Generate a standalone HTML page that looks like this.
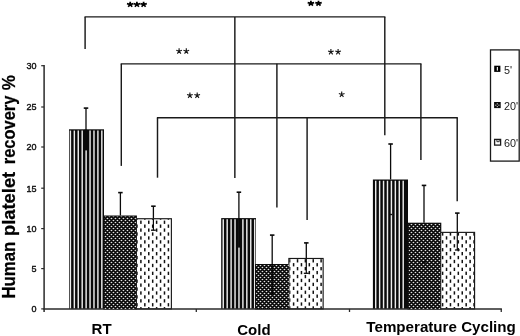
<!DOCTYPE html>
<html><head><meta charset="utf-8"><title>chart</title>
<style>
html,body{margin:0;padding:0;background:#fff;}
body{width:520px;height:336px;overflow:hidden;}
svg{display:block;font-family:"Liberation Sans",sans-serif;}
</style></head><body>
<svg width="520" height="336" viewBox="0 0 520 336">
<defs>
<filter id="soft" x="0" y="0" width="520" height="336" filterUnits="userSpaceOnUse"><feOffset dx="0" dy="0"/></filter>
<filter id="soft2" x="0" y="0" width="520" height="336" filterUnits="userSpaceOnUse"><feOffset dx="0" dy="0"/></filter>
<pattern id="p20" x="104.9" y="219.9" width="3.93" height="3.93" patternUnits="userSpaceOnUse">
<rect x="0" y="0" width="3.93" height="3.93" fill="#0a0a0a"/>
<circle cx="0.65" cy="0.65" r="0.6" fill="#fff"/><circle cx="2.615" cy="2.615" r="0.6" fill="#fff"/>
</pattern>
</defs>
<rect width="520" height="336" fill="#fff"/>
<g filter="url(#soft)">
<rect width="520" height="336" fill="#fff"/>

<line x1="84.50" y1="16.90" x2="385.40" y2="16.90" stroke="#1a1a1a" stroke-width="1.3"/>
<line x1="85.10" y1="16.90" x2="85.10" y2="48.90" stroke="#1a1a1a" stroke-width="1.45"/>
<line x1="234.85" y1="16.90" x2="234.85" y2="177.90" stroke="#1a1a1a" stroke-width="1.45"/>
<line x1="384.80" y1="16.90" x2="384.80" y2="135.20" stroke="#1a1a1a" stroke-width="1.45"/>
<line x1="120.70" y1="63.85" x2="421.40" y2="63.85" stroke="#1a1a1a" stroke-width="1.3"/>
<line x1="121.30" y1="63.85" x2="121.30" y2="165.90" stroke="#1a1a1a" stroke-width="1.45"/>
<line x1="276.90" y1="63.85" x2="276.90" y2="207.50" stroke="#1a1a1a" stroke-width="1.45"/>
<line x1="420.90" y1="63.85" x2="420.90" y2="159.90" stroke="#1a1a1a" stroke-width="1.45"/>
<line x1="156.90" y1="117.75" x2="457.80" y2="117.75" stroke="#1a1a1a" stroke-width="1.3"/>
<line x1="157.50" y1="117.75" x2="157.50" y2="177.70" stroke="#1a1a1a" stroke-width="1.45"/>
<line x1="307.10" y1="117.75" x2="307.10" y2="220.00" stroke="#1a1a1a" stroke-width="1.45"/>
<line x1="457.20" y1="117.75" x2="457.20" y2="201.30" stroke="#1a1a1a" stroke-width="1.45"/>
<rect x="69.0" y="129.3" width="35.00" height="179.60" fill="#0a0a0a"/>
<line x1="70.40" y1="130.55" x2="70.40" y2="308.90" stroke="#ececec" stroke-width="1.45"/>
<line x1="74.33" y1="130.55" x2="74.33" y2="308.90" stroke="#ececec" stroke-width="1.45"/>
<line x1="78.26" y1="130.55" x2="78.26" y2="308.90" stroke="#ececec" stroke-width="1.45"/>
<line x1="82.19" y1="130.55" x2="82.19" y2="308.90" stroke="#ececec" stroke-width="1.45"/>
<line x1="86.12" y1="130.55" x2="86.12" y2="308.90" stroke="#ececec" stroke-width="1.45"/>
<line x1="90.05" y1="130.55" x2="90.05" y2="308.90" stroke="#ececec" stroke-width="1.45"/>
<line x1="93.98" y1="130.55" x2="93.98" y2="308.90" stroke="#ececec" stroke-width="1.45"/>
<line x1="97.91" y1="130.55" x2="97.91" y2="308.90" stroke="#ececec" stroke-width="1.45"/>
<line x1="101.84" y1="130.55" x2="101.84" y2="308.90" stroke="#ececec" stroke-width="1.45"/>
<line x1="86.00" y1="108.00" x2="86.00" y2="129.30" stroke="#0a0a0a" stroke-width="1.3"/>
<line x1="83.75" y1="108.10" x2="88.25" y2="108.10" stroke="#0a0a0a" stroke-width="1.6"/>
<line x1="85.90" y1="129.30" x2="85.90" y2="150.40" stroke="#0a0a0a" stroke-width="2.3"/>
<rect x="103.95" y="216.15" width="32.30" height="92.75" fill="#060606" stroke="#0c0c0c" stroke-width="1.3"/>
<line x1="120.40" y1="192.50" x2="120.40" y2="215.50" stroke="#0a0a0a" stroke-width="1.3"/>
<line x1="118.15" y1="192.60" x2="122.65" y2="192.60" stroke="#0a0a0a" stroke-width="1.6"/>
<rect x="135.8" y="218.15" width="36.15" height="90.75" fill="#fff"/>
<clipPath id="c1"><rect x="136.80" y="219.15" width="34.15" height="89.75"/></clipPath>
<g clip-path="url(#c1)" fill="#111">
<rect x="136.22" y="208.81" width="1.5" height="3.3"/>
<rect x="136.22" y="216.67" width="1.5" height="3.3"/>
<rect x="136.22" y="224.53" width="1.5" height="3.3"/>
<rect x="136.22" y="232.39" width="1.5" height="3.3"/>
<rect x="136.22" y="240.25" width="1.5" height="3.3"/>
<rect x="136.22" y="248.11" width="1.5" height="3.3"/>
<rect x="136.22" y="255.97" width="1.5" height="3.3"/>
<rect x="136.22" y="263.83" width="1.5" height="3.3"/>
<rect x="136.22" y="271.69" width="1.5" height="3.3"/>
<rect x="136.22" y="279.55" width="1.5" height="3.3"/>
<rect x="136.22" y="287.41" width="1.5" height="3.3"/>
<rect x="136.22" y="295.27" width="1.5" height="3.3"/>
<rect x="136.22" y="303.13" width="1.5" height="3.3"/>
<rect x="140.15" y="204.88" width="1.5" height="3.3"/>
<rect x="140.15" y="212.74" width="1.5" height="3.3"/>
<rect x="140.15" y="220.60" width="1.5" height="3.3"/>
<rect x="140.15" y="228.46" width="1.5" height="3.3"/>
<rect x="140.15" y="236.32" width="1.5" height="3.3"/>
<rect x="140.15" y="244.18" width="1.5" height="3.3"/>
<rect x="140.15" y="252.04" width="1.5" height="3.3"/>
<rect x="140.15" y="259.90" width="1.5" height="3.3"/>
<rect x="140.15" y="267.76" width="1.5" height="3.3"/>
<rect x="140.15" y="275.62" width="1.5" height="3.3"/>
<rect x="140.15" y="283.48" width="1.5" height="3.3"/>
<rect x="140.15" y="291.34" width="1.5" height="3.3"/>
<rect x="140.15" y="299.20" width="1.5" height="3.3"/>
<rect x="140.15" y="307.06" width="1.5" height="3.3"/>
<rect x="144.08" y="208.81" width="1.5" height="3.3"/>
<rect x="144.08" y="216.67" width="1.5" height="3.3"/>
<rect x="144.08" y="224.53" width="1.5" height="3.3"/>
<rect x="144.08" y="232.39" width="1.5" height="3.3"/>
<rect x="144.08" y="240.25" width="1.5" height="3.3"/>
<rect x="144.08" y="248.11" width="1.5" height="3.3"/>
<rect x="144.08" y="255.97" width="1.5" height="3.3"/>
<rect x="144.08" y="263.83" width="1.5" height="3.3"/>
<rect x="144.08" y="271.69" width="1.5" height="3.3"/>
<rect x="144.08" y="279.55" width="1.5" height="3.3"/>
<rect x="144.08" y="287.41" width="1.5" height="3.3"/>
<rect x="144.08" y="295.27" width="1.5" height="3.3"/>
<rect x="144.08" y="303.13" width="1.5" height="3.3"/>
<rect x="148.01" y="204.88" width="1.5" height="3.3"/>
<rect x="148.01" y="212.74" width="1.5" height="3.3"/>
<rect x="148.01" y="220.60" width="1.5" height="3.3"/>
<rect x="148.01" y="228.46" width="1.5" height="3.3"/>
<rect x="148.01" y="236.32" width="1.5" height="3.3"/>
<rect x="148.01" y="244.18" width="1.5" height="3.3"/>
<rect x="148.01" y="252.04" width="1.5" height="3.3"/>
<rect x="148.01" y="259.90" width="1.5" height="3.3"/>
<rect x="148.01" y="267.76" width="1.5" height="3.3"/>
<rect x="148.01" y="275.62" width="1.5" height="3.3"/>
<rect x="148.01" y="283.48" width="1.5" height="3.3"/>
<rect x="148.01" y="291.34" width="1.5" height="3.3"/>
<rect x="148.01" y="299.20" width="1.5" height="3.3"/>
<rect x="148.01" y="307.06" width="1.5" height="3.3"/>
<rect x="151.94" y="208.81" width="1.5" height="3.3"/>
<rect x="151.94" y="216.67" width="1.5" height="3.3"/>
<rect x="151.94" y="224.53" width="1.5" height="3.3"/>
<rect x="151.94" y="232.39" width="1.5" height="3.3"/>
<rect x="151.94" y="240.25" width="1.5" height="3.3"/>
<rect x="151.94" y="248.11" width="1.5" height="3.3"/>
<rect x="151.94" y="255.97" width="1.5" height="3.3"/>
<rect x="151.94" y="263.83" width="1.5" height="3.3"/>
<rect x="151.94" y="271.69" width="1.5" height="3.3"/>
<rect x="151.94" y="279.55" width="1.5" height="3.3"/>
<rect x="151.94" y="287.41" width="1.5" height="3.3"/>
<rect x="151.94" y="295.27" width="1.5" height="3.3"/>
<rect x="151.94" y="303.13" width="1.5" height="3.3"/>
<rect x="155.87" y="204.88" width="1.5" height="3.3"/>
<rect x="155.87" y="212.74" width="1.5" height="3.3"/>
<rect x="155.87" y="220.60" width="1.5" height="3.3"/>
<rect x="155.87" y="228.46" width="1.5" height="3.3"/>
<rect x="155.87" y="236.32" width="1.5" height="3.3"/>
<rect x="155.87" y="244.18" width="1.5" height="3.3"/>
<rect x="155.87" y="252.04" width="1.5" height="3.3"/>
<rect x="155.87" y="259.90" width="1.5" height="3.3"/>
<rect x="155.87" y="267.76" width="1.5" height="3.3"/>
<rect x="155.87" y="275.62" width="1.5" height="3.3"/>
<rect x="155.87" y="283.48" width="1.5" height="3.3"/>
<rect x="155.87" y="291.34" width="1.5" height="3.3"/>
<rect x="155.87" y="299.20" width="1.5" height="3.3"/>
<rect x="155.87" y="307.06" width="1.5" height="3.3"/>
<rect x="159.80" y="208.81" width="1.5" height="3.3"/>
<rect x="159.80" y="216.67" width="1.5" height="3.3"/>
<rect x="159.80" y="224.53" width="1.5" height="3.3"/>
<rect x="159.80" y="232.39" width="1.5" height="3.3"/>
<rect x="159.80" y="240.25" width="1.5" height="3.3"/>
<rect x="159.80" y="248.11" width="1.5" height="3.3"/>
<rect x="159.80" y="255.97" width="1.5" height="3.3"/>
<rect x="159.80" y="263.83" width="1.5" height="3.3"/>
<rect x="159.80" y="271.69" width="1.5" height="3.3"/>
<rect x="159.80" y="279.55" width="1.5" height="3.3"/>
<rect x="159.80" y="287.41" width="1.5" height="3.3"/>
<rect x="159.80" y="295.27" width="1.5" height="3.3"/>
<rect x="159.80" y="303.13" width="1.5" height="3.3"/>
<rect x="163.73" y="204.88" width="1.5" height="3.3"/>
<rect x="163.73" y="212.74" width="1.5" height="3.3"/>
<rect x="163.73" y="220.60" width="1.5" height="3.3"/>
<rect x="163.73" y="228.46" width="1.5" height="3.3"/>
<rect x="163.73" y="236.32" width="1.5" height="3.3"/>
<rect x="163.73" y="244.18" width="1.5" height="3.3"/>
<rect x="163.73" y="252.04" width="1.5" height="3.3"/>
<rect x="163.73" y="259.90" width="1.5" height="3.3"/>
<rect x="163.73" y="267.76" width="1.5" height="3.3"/>
<rect x="163.73" y="275.62" width="1.5" height="3.3"/>
<rect x="163.73" y="283.48" width="1.5" height="3.3"/>
<rect x="163.73" y="291.34" width="1.5" height="3.3"/>
<rect x="163.73" y="299.20" width="1.5" height="3.3"/>
<rect x="163.73" y="307.06" width="1.5" height="3.3"/>
<rect x="167.66" y="208.81" width="1.5" height="3.3"/>
<rect x="167.66" y="216.67" width="1.5" height="3.3"/>
<rect x="167.66" y="224.53" width="1.5" height="3.3"/>
<rect x="167.66" y="232.39" width="1.5" height="3.3"/>
<rect x="167.66" y="240.25" width="1.5" height="3.3"/>
<rect x="167.66" y="248.11" width="1.5" height="3.3"/>
<rect x="167.66" y="255.97" width="1.5" height="3.3"/>
<rect x="167.66" y="263.83" width="1.5" height="3.3"/>
<rect x="167.66" y="271.69" width="1.5" height="3.3"/>
<rect x="167.66" y="279.55" width="1.5" height="3.3"/>
<rect x="167.66" y="287.41" width="1.5" height="3.3"/>
<rect x="167.66" y="295.27" width="1.5" height="3.3"/>
<rect x="167.66" y="303.13" width="1.5" height="3.3"/>
</g>
<rect x="136.38" y="218.72" width="35.00" height="90.17" fill="none" stroke="#181818" stroke-width="1.15"/>
<line x1="153.40" y1="206.10" x2="153.40" y2="218.00" stroke="#0a0a0a" stroke-width="1.3"/>
<line x1="151.15" y1="206.20" x2="155.65" y2="206.20" stroke="#0a0a0a" stroke-width="1.6"/>
<line x1="153.40" y1="218.50" x2="153.40" y2="230.20" stroke="#0a0a0a" stroke-width="1.2"/>
<line x1="151.00" y1="230.20" x2="155.80" y2="230.20" stroke="#0a0a0a" stroke-width="1.3"/>
<rect x="221.2" y="218.1" width="34.80" height="90.80" fill="#0a0a0a"/>
<line x1="223.25" y1="219.35" x2="223.25" y2="308.90" stroke="#ececec" stroke-width="1.45"/>
<line x1="227.18" y1="219.35" x2="227.18" y2="308.90" stroke="#ececec" stroke-width="1.45"/>
<line x1="231.11" y1="219.35" x2="231.11" y2="308.90" stroke="#ececec" stroke-width="1.45"/>
<line x1="235.04" y1="219.35" x2="235.04" y2="308.90" stroke="#ececec" stroke-width="1.45"/>
<line x1="238.97" y1="219.35" x2="238.97" y2="308.90" stroke="#ececec" stroke-width="1.45"/>
<line x1="242.90" y1="219.35" x2="242.90" y2="308.90" stroke="#ececec" stroke-width="1.45"/>
<line x1="246.83" y1="219.35" x2="246.83" y2="308.90" stroke="#ececec" stroke-width="1.45"/>
<line x1="250.76" y1="219.35" x2="250.76" y2="308.90" stroke="#ececec" stroke-width="1.45"/>
<line x1="254.69" y1="219.35" x2="254.69" y2="308.90" stroke="#ececec" stroke-width="1.45"/>
<line x1="238.90" y1="192.10" x2="238.90" y2="218.10" stroke="#0a0a0a" stroke-width="1.3"/>
<line x1="236.65" y1="192.20" x2="241.15" y2="192.20" stroke="#0a0a0a" stroke-width="1.6"/>
<line x1="239.20" y1="218.10" x2="239.20" y2="247.60" stroke="#0a0a0a" stroke-width="2.3"/>
<rect x="255.75" y="264.65" width="33.40" height="44.25" fill="#060606" stroke="#0c0c0c" stroke-width="1.3"/>
<line x1="272.20" y1="235.00" x2="272.20" y2="264.00" stroke="#0a0a0a" stroke-width="1.3"/>
<line x1="269.95" y1="235.10" x2="274.45" y2="235.10" stroke="#0a0a0a" stroke-width="1.6"/>
<rect x="288.3" y="257.9" width="35.40" height="51.00" fill="#fff"/>
<clipPath id="c2"><rect x="289.30" y="258.90" width="33.40" height="50.00"/></clipPath>
<g clip-path="url(#c2)" fill="#111">
<rect x="288.92" y="243.45" width="1.5" height="3.3"/>
<rect x="288.92" y="251.31" width="1.5" height="3.3"/>
<rect x="288.92" y="259.17" width="1.5" height="3.3"/>
<rect x="288.92" y="267.03" width="1.5" height="3.3"/>
<rect x="288.92" y="274.89" width="1.5" height="3.3"/>
<rect x="288.92" y="282.75" width="1.5" height="3.3"/>
<rect x="288.92" y="290.61" width="1.5" height="3.3"/>
<rect x="288.92" y="298.47" width="1.5" height="3.3"/>
<rect x="288.92" y="306.33" width="1.5" height="3.3"/>
<rect x="292.85" y="247.38" width="1.5" height="3.3"/>
<rect x="292.85" y="255.24" width="1.5" height="3.3"/>
<rect x="292.85" y="263.10" width="1.5" height="3.3"/>
<rect x="292.85" y="270.96" width="1.5" height="3.3"/>
<rect x="292.85" y="278.82" width="1.5" height="3.3"/>
<rect x="292.85" y="286.68" width="1.5" height="3.3"/>
<rect x="292.85" y="294.54" width="1.5" height="3.3"/>
<rect x="292.85" y="302.40" width="1.5" height="3.3"/>
<rect x="296.78" y="243.45" width="1.5" height="3.3"/>
<rect x="296.78" y="251.31" width="1.5" height="3.3"/>
<rect x="296.78" y="259.17" width="1.5" height="3.3"/>
<rect x="296.78" y="267.03" width="1.5" height="3.3"/>
<rect x="296.78" y="274.89" width="1.5" height="3.3"/>
<rect x="296.78" y="282.75" width="1.5" height="3.3"/>
<rect x="296.78" y="290.61" width="1.5" height="3.3"/>
<rect x="296.78" y="298.47" width="1.5" height="3.3"/>
<rect x="296.78" y="306.33" width="1.5" height="3.3"/>
<rect x="300.71" y="247.38" width="1.5" height="3.3"/>
<rect x="300.71" y="255.24" width="1.5" height="3.3"/>
<rect x="300.71" y="263.10" width="1.5" height="3.3"/>
<rect x="300.71" y="270.96" width="1.5" height="3.3"/>
<rect x="300.71" y="278.82" width="1.5" height="3.3"/>
<rect x="300.71" y="286.68" width="1.5" height="3.3"/>
<rect x="300.71" y="294.54" width="1.5" height="3.3"/>
<rect x="300.71" y="302.40" width="1.5" height="3.3"/>
<rect x="304.64" y="243.45" width="1.5" height="3.3"/>
<rect x="304.64" y="251.31" width="1.5" height="3.3"/>
<rect x="304.64" y="259.17" width="1.5" height="3.3"/>
<rect x="304.64" y="267.03" width="1.5" height="3.3"/>
<rect x="304.64" y="274.89" width="1.5" height="3.3"/>
<rect x="304.64" y="282.75" width="1.5" height="3.3"/>
<rect x="304.64" y="290.61" width="1.5" height="3.3"/>
<rect x="304.64" y="298.47" width="1.5" height="3.3"/>
<rect x="304.64" y="306.33" width="1.5" height="3.3"/>
<rect x="308.57" y="247.38" width="1.5" height="3.3"/>
<rect x="308.57" y="255.24" width="1.5" height="3.3"/>
<rect x="308.57" y="263.10" width="1.5" height="3.3"/>
<rect x="308.57" y="270.96" width="1.5" height="3.3"/>
<rect x="308.57" y="278.82" width="1.5" height="3.3"/>
<rect x="308.57" y="286.68" width="1.5" height="3.3"/>
<rect x="308.57" y="294.54" width="1.5" height="3.3"/>
<rect x="308.57" y="302.40" width="1.5" height="3.3"/>
<rect x="312.50" y="243.45" width="1.5" height="3.3"/>
<rect x="312.50" y="251.31" width="1.5" height="3.3"/>
<rect x="312.50" y="259.17" width="1.5" height="3.3"/>
<rect x="312.50" y="267.03" width="1.5" height="3.3"/>
<rect x="312.50" y="274.89" width="1.5" height="3.3"/>
<rect x="312.50" y="282.75" width="1.5" height="3.3"/>
<rect x="312.50" y="290.61" width="1.5" height="3.3"/>
<rect x="312.50" y="298.47" width="1.5" height="3.3"/>
<rect x="312.50" y="306.33" width="1.5" height="3.3"/>
<rect x="316.43" y="247.38" width="1.5" height="3.3"/>
<rect x="316.43" y="255.24" width="1.5" height="3.3"/>
<rect x="316.43" y="263.10" width="1.5" height="3.3"/>
<rect x="316.43" y="270.96" width="1.5" height="3.3"/>
<rect x="316.43" y="278.82" width="1.5" height="3.3"/>
<rect x="316.43" y="286.68" width="1.5" height="3.3"/>
<rect x="316.43" y="294.54" width="1.5" height="3.3"/>
<rect x="316.43" y="302.40" width="1.5" height="3.3"/>
<rect x="320.36" y="243.45" width="1.5" height="3.3"/>
<rect x="320.36" y="251.31" width="1.5" height="3.3"/>
<rect x="320.36" y="259.17" width="1.5" height="3.3"/>
<rect x="320.36" y="267.03" width="1.5" height="3.3"/>
<rect x="320.36" y="274.89" width="1.5" height="3.3"/>
<rect x="320.36" y="282.75" width="1.5" height="3.3"/>
<rect x="320.36" y="290.61" width="1.5" height="3.3"/>
<rect x="320.36" y="298.47" width="1.5" height="3.3"/>
<rect x="320.36" y="306.33" width="1.5" height="3.3"/>
</g>
<rect x="288.88" y="258.47" width="34.25" height="50.42" fill="none" stroke="#181818" stroke-width="1.15"/>
<line x1="306.30" y1="242.80" x2="306.30" y2="258.00" stroke="#0a0a0a" stroke-width="1.3"/>
<line x1="304.05" y1="242.90" x2="308.55" y2="242.90" stroke="#0a0a0a" stroke-width="1.6"/>
<line x1="306.30" y1="258.50" x2="306.30" y2="273.30" stroke="#0a0a0a" stroke-width="1.2"/>
<line x1="303.80" y1="273.30" x2="308.80" y2="273.30" stroke="#0a0a0a" stroke-width="1.3"/>
<rect x="372.9" y="179.5" width="35.10" height="129.40" fill="#0a0a0a"/>
<line x1="375.70" y1="180.75" x2="375.70" y2="308.90" stroke="#ececec" stroke-width="1.45"/>
<line x1="379.63" y1="180.75" x2="379.63" y2="308.90" stroke="#ececec" stroke-width="1.45"/>
<line x1="383.56" y1="180.75" x2="383.56" y2="308.90" stroke="#ececec" stroke-width="1.45"/>
<line x1="387.49" y1="180.75" x2="387.49" y2="308.90" stroke="#ececec" stroke-width="1.45"/>
<line x1="391.42" y1="180.75" x2="391.42" y2="308.90" stroke="#ececec" stroke-width="1.45"/>
<line x1="395.35" y1="180.75" x2="395.35" y2="308.90" stroke="#ececec" stroke-width="1.45"/>
<line x1="399.28" y1="180.75" x2="399.28" y2="308.90" stroke="#ececec" stroke-width="1.45"/>
<line x1="403.21" y1="180.75" x2="403.21" y2="308.90" stroke="#ececec" stroke-width="1.45"/>
<line x1="390.60" y1="143.90" x2="390.60" y2="179.50" stroke="#0a0a0a" stroke-width="1.3"/>
<line x1="388.35" y1="144.00" x2="392.85" y2="144.00" stroke="#0a0a0a" stroke-width="1.6"/>
<line x1="389.90" y1="214.50" x2="392.10" y2="214.50" stroke="#111" stroke-width="1.4"/>
<rect x="408.15" y="223.35" width="32.50" height="85.55" fill="#060606" stroke="#0c0c0c" stroke-width="1.3"/>
<line x1="424.00" y1="185.30" x2="424.00" y2="222.70" stroke="#0a0a0a" stroke-width="1.3"/>
<line x1="421.75" y1="185.40" x2="426.25" y2="185.40" stroke="#0a0a0a" stroke-width="1.6"/>
<rect x="440.1" y="231.8" width="35.05" height="77.10" fill="#fff"/>
<clipPath id="c3"><rect x="441.10" y="232.80" width="33.05" height="76.10"/></clipPath>
<g clip-path="url(#c3)" fill="#111">
<rect x="437.92" y="220.55" width="1.5" height="3.3"/>
<rect x="437.92" y="228.41" width="1.5" height="3.3"/>
<rect x="437.92" y="236.27" width="1.5" height="3.3"/>
<rect x="437.92" y="244.13" width="1.5" height="3.3"/>
<rect x="437.92" y="251.99" width="1.5" height="3.3"/>
<rect x="437.92" y="259.85" width="1.5" height="3.3"/>
<rect x="437.92" y="267.71" width="1.5" height="3.3"/>
<rect x="437.92" y="275.57" width="1.5" height="3.3"/>
<rect x="437.92" y="283.43" width="1.5" height="3.3"/>
<rect x="437.92" y="291.29" width="1.5" height="3.3"/>
<rect x="437.92" y="299.15" width="1.5" height="3.3"/>
<rect x="437.92" y="307.01" width="1.5" height="3.3"/>
<rect x="441.85" y="216.62" width="1.5" height="3.3"/>
<rect x="441.85" y="224.48" width="1.5" height="3.3"/>
<rect x="441.85" y="232.34" width="1.5" height="3.3"/>
<rect x="441.85" y="240.20" width="1.5" height="3.3"/>
<rect x="441.85" y="248.06" width="1.5" height="3.3"/>
<rect x="441.85" y="255.92" width="1.5" height="3.3"/>
<rect x="441.85" y="263.78" width="1.5" height="3.3"/>
<rect x="441.85" y="271.64" width="1.5" height="3.3"/>
<rect x="441.85" y="279.50" width="1.5" height="3.3"/>
<rect x="441.85" y="287.36" width="1.5" height="3.3"/>
<rect x="441.85" y="295.22" width="1.5" height="3.3"/>
<rect x="441.85" y="303.08" width="1.5" height="3.3"/>
<rect x="445.78" y="220.55" width="1.5" height="3.3"/>
<rect x="445.78" y="228.41" width="1.5" height="3.3"/>
<rect x="445.78" y="236.27" width="1.5" height="3.3"/>
<rect x="445.78" y="244.13" width="1.5" height="3.3"/>
<rect x="445.78" y="251.99" width="1.5" height="3.3"/>
<rect x="445.78" y="259.85" width="1.5" height="3.3"/>
<rect x="445.78" y="267.71" width="1.5" height="3.3"/>
<rect x="445.78" y="275.57" width="1.5" height="3.3"/>
<rect x="445.78" y="283.43" width="1.5" height="3.3"/>
<rect x="445.78" y="291.29" width="1.5" height="3.3"/>
<rect x="445.78" y="299.15" width="1.5" height="3.3"/>
<rect x="445.78" y="307.01" width="1.5" height="3.3"/>
<rect x="449.71" y="216.62" width="1.5" height="3.3"/>
<rect x="449.71" y="224.48" width="1.5" height="3.3"/>
<rect x="449.71" y="232.34" width="1.5" height="3.3"/>
<rect x="449.71" y="240.20" width="1.5" height="3.3"/>
<rect x="449.71" y="248.06" width="1.5" height="3.3"/>
<rect x="449.71" y="255.92" width="1.5" height="3.3"/>
<rect x="449.71" y="263.78" width="1.5" height="3.3"/>
<rect x="449.71" y="271.64" width="1.5" height="3.3"/>
<rect x="449.71" y="279.50" width="1.5" height="3.3"/>
<rect x="449.71" y="287.36" width="1.5" height="3.3"/>
<rect x="449.71" y="295.22" width="1.5" height="3.3"/>
<rect x="449.71" y="303.08" width="1.5" height="3.3"/>
<rect x="453.64" y="220.55" width="1.5" height="3.3"/>
<rect x="453.64" y="228.41" width="1.5" height="3.3"/>
<rect x="453.64" y="236.27" width="1.5" height="3.3"/>
<rect x="453.64" y="244.13" width="1.5" height="3.3"/>
<rect x="453.64" y="251.99" width="1.5" height="3.3"/>
<rect x="453.64" y="259.85" width="1.5" height="3.3"/>
<rect x="453.64" y="267.71" width="1.5" height="3.3"/>
<rect x="453.64" y="275.57" width="1.5" height="3.3"/>
<rect x="453.64" y="283.43" width="1.5" height="3.3"/>
<rect x="453.64" y="291.29" width="1.5" height="3.3"/>
<rect x="453.64" y="299.15" width="1.5" height="3.3"/>
<rect x="453.64" y="307.01" width="1.5" height="3.3"/>
<rect x="457.57" y="216.62" width="1.5" height="3.3"/>
<rect x="457.57" y="224.48" width="1.5" height="3.3"/>
<rect x="457.57" y="232.34" width="1.5" height="3.3"/>
<rect x="457.57" y="240.20" width="1.5" height="3.3"/>
<rect x="457.57" y="248.06" width="1.5" height="3.3"/>
<rect x="457.57" y="255.92" width="1.5" height="3.3"/>
<rect x="457.57" y="263.78" width="1.5" height="3.3"/>
<rect x="457.57" y="271.64" width="1.5" height="3.3"/>
<rect x="457.57" y="279.50" width="1.5" height="3.3"/>
<rect x="457.57" y="287.36" width="1.5" height="3.3"/>
<rect x="457.57" y="295.22" width="1.5" height="3.3"/>
<rect x="457.57" y="303.08" width="1.5" height="3.3"/>
<rect x="461.50" y="220.55" width="1.5" height="3.3"/>
<rect x="461.50" y="228.41" width="1.5" height="3.3"/>
<rect x="461.50" y="236.27" width="1.5" height="3.3"/>
<rect x="461.50" y="244.13" width="1.5" height="3.3"/>
<rect x="461.50" y="251.99" width="1.5" height="3.3"/>
<rect x="461.50" y="259.85" width="1.5" height="3.3"/>
<rect x="461.50" y="267.71" width="1.5" height="3.3"/>
<rect x="461.50" y="275.57" width="1.5" height="3.3"/>
<rect x="461.50" y="283.43" width="1.5" height="3.3"/>
<rect x="461.50" y="291.29" width="1.5" height="3.3"/>
<rect x="461.50" y="299.15" width="1.5" height="3.3"/>
<rect x="461.50" y="307.01" width="1.5" height="3.3"/>
<rect x="465.43" y="216.62" width="1.5" height="3.3"/>
<rect x="465.43" y="224.48" width="1.5" height="3.3"/>
<rect x="465.43" y="232.34" width="1.5" height="3.3"/>
<rect x="465.43" y="240.20" width="1.5" height="3.3"/>
<rect x="465.43" y="248.06" width="1.5" height="3.3"/>
<rect x="465.43" y="255.92" width="1.5" height="3.3"/>
<rect x="465.43" y="263.78" width="1.5" height="3.3"/>
<rect x="465.43" y="271.64" width="1.5" height="3.3"/>
<rect x="465.43" y="279.50" width="1.5" height="3.3"/>
<rect x="465.43" y="287.36" width="1.5" height="3.3"/>
<rect x="465.43" y="295.22" width="1.5" height="3.3"/>
<rect x="465.43" y="303.08" width="1.5" height="3.3"/>
<rect x="469.36" y="220.55" width="1.5" height="3.3"/>
<rect x="469.36" y="228.41" width="1.5" height="3.3"/>
<rect x="469.36" y="236.27" width="1.5" height="3.3"/>
<rect x="469.36" y="244.13" width="1.5" height="3.3"/>
<rect x="469.36" y="251.99" width="1.5" height="3.3"/>
<rect x="469.36" y="259.85" width="1.5" height="3.3"/>
<rect x="469.36" y="267.71" width="1.5" height="3.3"/>
<rect x="469.36" y="275.57" width="1.5" height="3.3"/>
<rect x="469.36" y="283.43" width="1.5" height="3.3"/>
<rect x="469.36" y="291.29" width="1.5" height="3.3"/>
<rect x="469.36" y="299.15" width="1.5" height="3.3"/>
<rect x="469.36" y="307.01" width="1.5" height="3.3"/>
<rect x="473.29" y="216.62" width="1.5" height="3.3"/>
<rect x="473.29" y="224.48" width="1.5" height="3.3"/>
<rect x="473.29" y="232.34" width="1.5" height="3.3"/>
<rect x="473.29" y="240.20" width="1.5" height="3.3"/>
<rect x="473.29" y="248.06" width="1.5" height="3.3"/>
<rect x="473.29" y="255.92" width="1.5" height="3.3"/>
<rect x="473.29" y="263.78" width="1.5" height="3.3"/>
<rect x="473.29" y="271.64" width="1.5" height="3.3"/>
<rect x="473.29" y="279.50" width="1.5" height="3.3"/>
<rect x="473.29" y="287.36" width="1.5" height="3.3"/>
<rect x="473.29" y="295.22" width="1.5" height="3.3"/>
<rect x="473.29" y="303.08" width="1.5" height="3.3"/>
</g>
<rect x="440.68" y="232.38" width="33.90" height="76.52" fill="none" stroke="#181818" stroke-width="1.15"/>
<line x1="457.30" y1="213.00" x2="457.30" y2="232.00" stroke="#0a0a0a" stroke-width="1.3"/>
<line x1="455.05" y1="213.10" x2="459.55" y2="213.10" stroke="#0a0a0a" stroke-width="1.6"/>
<line x1="457.30" y1="232.40" x2="457.30" y2="250.00" stroke="#0a0a0a" stroke-width="1.2"/>
<line x1="454.90" y1="250.00" x2="459.70" y2="250.00" stroke="#0a0a0a" stroke-width="1.3"/>
<line x1="44.10" y1="65.10" x2="44.10" y2="311.90" stroke="#2a2a2a" stroke-width="1.5"/>
<line x1="43.40" y1="308.90" x2="501.90" y2="308.90" stroke="#2a2a2a" stroke-width="1.45"/>
<line x1="41.20" y1="65.70" x2="44.00" y2="65.70" stroke="#2a2a2a" stroke-width="1.2"/>
<text x="36.5" y="69.0" font-size="9" text-anchor="end" fill="#111" stroke="#111" stroke-width="0.4">30</text>
<line x1="41.20" y1="107.00" x2="44.00" y2="107.00" stroke="#2a2a2a" stroke-width="1.2"/>
<text x="36.5" y="110.3" font-size="9" text-anchor="end" fill="#111" stroke="#111" stroke-width="0.4">25</text>
<line x1="41.20" y1="147.00" x2="44.00" y2="147.00" stroke="#2a2a2a" stroke-width="1.2"/>
<text x="36.5" y="150.3" font-size="9" text-anchor="end" fill="#111" stroke="#111" stroke-width="0.4">20</text>
<line x1="41.20" y1="188.20" x2="44.00" y2="188.20" stroke="#2a2a2a" stroke-width="1.2"/>
<text x="36.5" y="191.5" font-size="9" text-anchor="end" fill="#111" stroke="#111" stroke-width="0.4">15</text>
<line x1="41.20" y1="228.60" x2="44.00" y2="228.60" stroke="#2a2a2a" stroke-width="1.2"/>
<text x="36.5" y="231.9" font-size="9" text-anchor="end" fill="#111" stroke="#111" stroke-width="0.4">10</text>
<line x1="41.20" y1="268.60" x2="44.00" y2="268.60" stroke="#2a2a2a" stroke-width="1.2"/>
<text x="36.5" y="271.9" font-size="9" text-anchor="end" fill="#111" stroke="#111" stroke-width="0.4">5</text>
<line x1="41.20" y1="308.90" x2="44.00" y2="308.90" stroke="#2a2a2a" stroke-width="1.2"/>
<text x="36.5" y="312.2" font-size="9" text-anchor="end" fill="#111" stroke="#111" stroke-width="0.4">0</text>
<line x1="196.30" y1="308.90" x2="196.30" y2="312.00" stroke="#2a2a2a" stroke-width="1.3"/>
<line x1="349.50" y1="308.90" x2="349.50" y2="312.00" stroke="#2a2a2a" stroke-width="1.3"/>
<line x1="501.25" y1="308.90" x2="501.25" y2="312.00" stroke="#2a2a2a" stroke-width="1.3"/>
<text x="101.6" y="334.3" font-size="15" font-weight="bold" text-anchor="middle" fill="#000">RT</text>
<text x="253.9" y="335" font-size="15" font-weight="bold" text-anchor="middle" fill="#000">Cold</text>
<text x="441.1" y="332.4" font-size="15.15" font-weight="bold" text-anchor="middle" fill="#000">Temperature Cycling</text>
<text transform="translate(15.4,298.5) rotate(-90)" font-size="17.5" font-weight="bold" fill="#000" stroke="#000" stroke-width="0.25" textLength="56.7" lengthAdjust="spacingAndGlyphs">Human</text>
<text transform="translate(15.4,236.0) rotate(-90)" font-size="17.5" font-weight="bold" fill="#000" stroke="#000" stroke-width="0.25" textLength="64.2" lengthAdjust="spacingAndGlyphs">platelet</text>
<text transform="translate(15.4,164.2) rotate(-90)" font-size="17.5" font-weight="bold" fill="#000" stroke="#000" stroke-width="0.25" textLength="68.6" lengthAdjust="spacingAndGlyphs">recovery</text>
<text transform="translate(15.4,90.2) rotate(-90)" font-size="17.5" font-weight="bold" fill="#000" stroke="#000" stroke-width="0.25" textLength="15.1" lengthAdjust="spacingAndGlyphs">%</text>
<path d="M130.20,4.50L130.20,1.75M130.20,4.50L133.43,3.65M130.20,4.50L132.20,6.72M130.20,4.50L128.20,6.72M130.20,4.50L126.97,3.65" stroke="#000" stroke-width="1.75" fill="none"/>
<path d="M136.90,4.50L136.90,1.75M136.90,4.50L140.13,3.65M136.90,4.50L138.90,6.72M136.90,4.50L134.90,6.72M136.90,4.50L133.67,3.65" stroke="#000" stroke-width="1.75" fill="none"/>
<path d="M143.60,4.50L143.60,1.75M143.60,4.50L146.83,3.65M143.60,4.50L145.60,6.72M143.60,4.50L141.60,6.72M143.60,4.50L140.37,3.65" stroke="#000" stroke-width="1.75" fill="none"/>
<path d="M310.90,3.40L310.90,0.65M310.90,3.40L314.13,2.55M310.90,3.40L312.90,5.62M310.90,3.40L308.90,5.62M310.90,3.40L307.67,2.55" stroke="#000" stroke-width="1.75" fill="none"/>
<path d="M318.50,3.40L318.50,0.65M318.50,3.40L321.73,2.55M318.50,3.40L320.50,5.62M318.50,3.40L316.50,5.62M318.50,3.40L315.27,2.55" stroke="#000" stroke-width="1.75" fill="none"/>
<path d="M179.10,51.20L179.10,48.20M179.10,51.20L181.95,50.27M179.10,51.20L180.86,53.63M179.10,51.20L177.34,53.63M179.10,51.20L176.25,50.27" stroke="#1a1a1a" stroke-width="1.15" fill="none"/>
<path d="M186.30,51.20L186.30,48.20M186.30,51.20L189.15,50.27M186.30,51.20L188.06,53.63M186.30,51.20L184.54,53.63M186.30,51.20L183.45,50.27" stroke="#1a1a1a" stroke-width="1.15" fill="none"/>
<path d="M330.90,51.90L330.90,48.90M330.90,51.90L333.75,50.97M330.90,51.90L332.66,54.33M330.90,51.90L329.14,54.33M330.90,51.90L328.05,50.97" stroke="#1a1a1a" stroke-width="1.15" fill="none"/>
<path d="M338.10,51.90L338.10,48.90M338.10,51.90L340.95,50.97M338.10,51.90L339.86,54.33M338.10,51.90L336.34,54.33M338.10,51.90L335.25,50.97" stroke="#1a1a1a" stroke-width="1.15" fill="none"/>
<path d="M189.90,95.40L189.90,92.40M189.90,95.40L192.75,94.47M189.90,95.40L191.66,97.83M189.90,95.40L188.14,97.83M189.90,95.40L187.05,94.47" stroke="#1a1a1a" stroke-width="1.15" fill="none"/>
<path d="M197.20,95.40L197.20,92.40M197.20,95.40L200.05,94.47M197.20,95.40L198.96,97.83M197.20,95.40L195.44,97.83M197.20,95.40L194.35,94.47" stroke="#1a1a1a" stroke-width="1.15" fill="none"/>
<path d="M341.70,94.50L341.70,91.50M341.70,94.50L344.55,93.57M341.70,94.50L343.46,96.93M341.70,94.50L339.94,96.93M341.70,94.50L338.85,93.57" stroke="#1a1a1a" stroke-width="1.15" fill="none"/>
<rect x="490.5" y="49.9" width="28.7" height="111.2" fill="#fff" stroke="#1a1a1a" stroke-width="1.3"/>
<rect x="494.2" y="65.7" width="6.2" height="6.2" fill="#000"/><rect x="496.8" y="67.0" width="1.1" height="3.6" fill="#fff"/>
<rect x="494.1" y="102" width="6.6" height="6.1" fill="#0a0a0a"/>
<rect x="496.75" y="103.25" width="1.1" height="1.1" fill="#d0d0d0"/>
<rect x="495.25" y="104.65" width="1.1" height="1.1" fill="#d0d0d0"/>
<rect x="498.35" y="104.65" width="1.1" height="1.1" fill="#d0d0d0"/>
<rect x="496.75" y="106.05" width="1.1" height="1.1" fill="#d0d0d0"/>
<rect x="494.6" y="139.4" width="6.0" height="5.7" fill="#fff" stroke="#1a1a1a" stroke-width="1.3"/><path d="M496.9,139.4V141.7H499.2V139.4" fill="none" stroke="#1a1a1a" stroke-width="0.9"/>
<text x="504.1" y="73.5" font-size="10.8" fill="#1a1a1a">5'</text>
<text x="504.1" y="109.5" font-size="10.8" fill="#1a1a1a">20'</text>
<text x="503.9" y="146.7" font-size="10.8" fill="#1a1a1a">60'</text>
</g>
<g filter="url(#soft2)"><pattern id="q1" x="105" y="220" width="4" height="4" patternUnits="userSpaceOnUse"><rect width="4" height="4" fill="#060606"/><rect x="0" y="0" width="1" height="1" fill="#e2e2e2" fill-opacity="1"/><rect x="3" y="0" width="1" height="1" fill="#e2e2e2" fill-opacity="0.34"/><rect x="1" y="0" width="1" height="1" fill="#e2e2e2" fill-opacity="0.24"/><rect x="0" y="3" width="1" height="1" fill="#e2e2e2" fill-opacity="0.15"/><rect x="0" y="1" width="1" height="1" fill="#e2e2e2" fill-opacity="0.15"/><rect x="2" y="2" width="1" height="1" fill="#e2e2e2" fill-opacity="1"/><rect x="1" y="2" width="1" height="1" fill="#e2e2e2" fill-opacity="0.34"/><rect x="3" y="2" width="1" height="1" fill="#e2e2e2" fill-opacity="0.24"/><rect x="2" y="1" width="1" height="1" fill="#e2e2e2" fill-opacity="0.15"/><rect x="2" y="3" width="1" height="1" fill="#e2e2e2" fill-opacity="0.15"/></pattern><rect x="104.30" y="216.50" width="31.60" height="92.40" fill="url(#q1)"/><pattern id="q2" x="258" y="267" width="4" height="4" patternUnits="userSpaceOnUse"><rect width="4" height="4" fill="#060606"/><rect x="0" y="0" width="1" height="1" fill="#e2e2e2" fill-opacity="1"/><rect x="3" y="0" width="1" height="1" fill="#e2e2e2" fill-opacity="0.34"/><rect x="1" y="0" width="1" height="1" fill="#e2e2e2" fill-opacity="0.24"/><rect x="0" y="3" width="1" height="1" fill="#e2e2e2" fill-opacity="0.15"/><rect x="0" y="1" width="1" height="1" fill="#e2e2e2" fill-opacity="0.15"/><rect x="2" y="2" width="1" height="1" fill="#e2e2e2" fill-opacity="1"/><rect x="1" y="2" width="1" height="1" fill="#e2e2e2" fill-opacity="0.34"/><rect x="3" y="2" width="1" height="1" fill="#e2e2e2" fill-opacity="0.24"/><rect x="2" y="1" width="1" height="1" fill="#e2e2e2" fill-opacity="0.15"/><rect x="2" y="3" width="1" height="1" fill="#e2e2e2" fill-opacity="0.15"/></pattern><rect x="256.10" y="265.00" width="32.70" height="43.90" fill="url(#q2)"/><pattern id="q3" x="411" y="224" width="4" height="4" patternUnits="userSpaceOnUse"><rect width="4" height="4" fill="#060606"/><rect x="0" y="0" width="1" height="1" fill="#e2e2e2" fill-opacity="1"/><rect x="3" y="0" width="1" height="1" fill="#e2e2e2" fill-opacity="0.34"/><rect x="1" y="0" width="1" height="1" fill="#e2e2e2" fill-opacity="0.24"/><rect x="0" y="3" width="1" height="1" fill="#e2e2e2" fill-opacity="0.15"/><rect x="0" y="1" width="1" height="1" fill="#e2e2e2" fill-opacity="0.15"/><rect x="2" y="2" width="1" height="1" fill="#e2e2e2" fill-opacity="1"/><rect x="1" y="2" width="1" height="1" fill="#e2e2e2" fill-opacity="0.34"/><rect x="3" y="2" width="1" height="1" fill="#e2e2e2" fill-opacity="0.24"/><rect x="2" y="1" width="1" height="1" fill="#e2e2e2" fill-opacity="0.15"/><rect x="2" y="3" width="1" height="1" fill="#e2e2e2" fill-opacity="0.15"/></pattern><rect x="408.50" y="223.70" width="31.80" height="85.20" fill="url(#q3)"/></g>
<g filter="url(#soft)"><line x1="272.20" y1="264.00" x2="272.20" y2="294.00" stroke="#000" stroke-width="1.4"/><line x1="270.20" y1="294.00" x2="274.20" y2="294.00" stroke="#000" stroke-width="1.3"/><line x1="422.00" y1="262.00" x2="426.00" y2="262.00" stroke="#000" stroke-width="1.5"/></g>
</svg></body></html>
